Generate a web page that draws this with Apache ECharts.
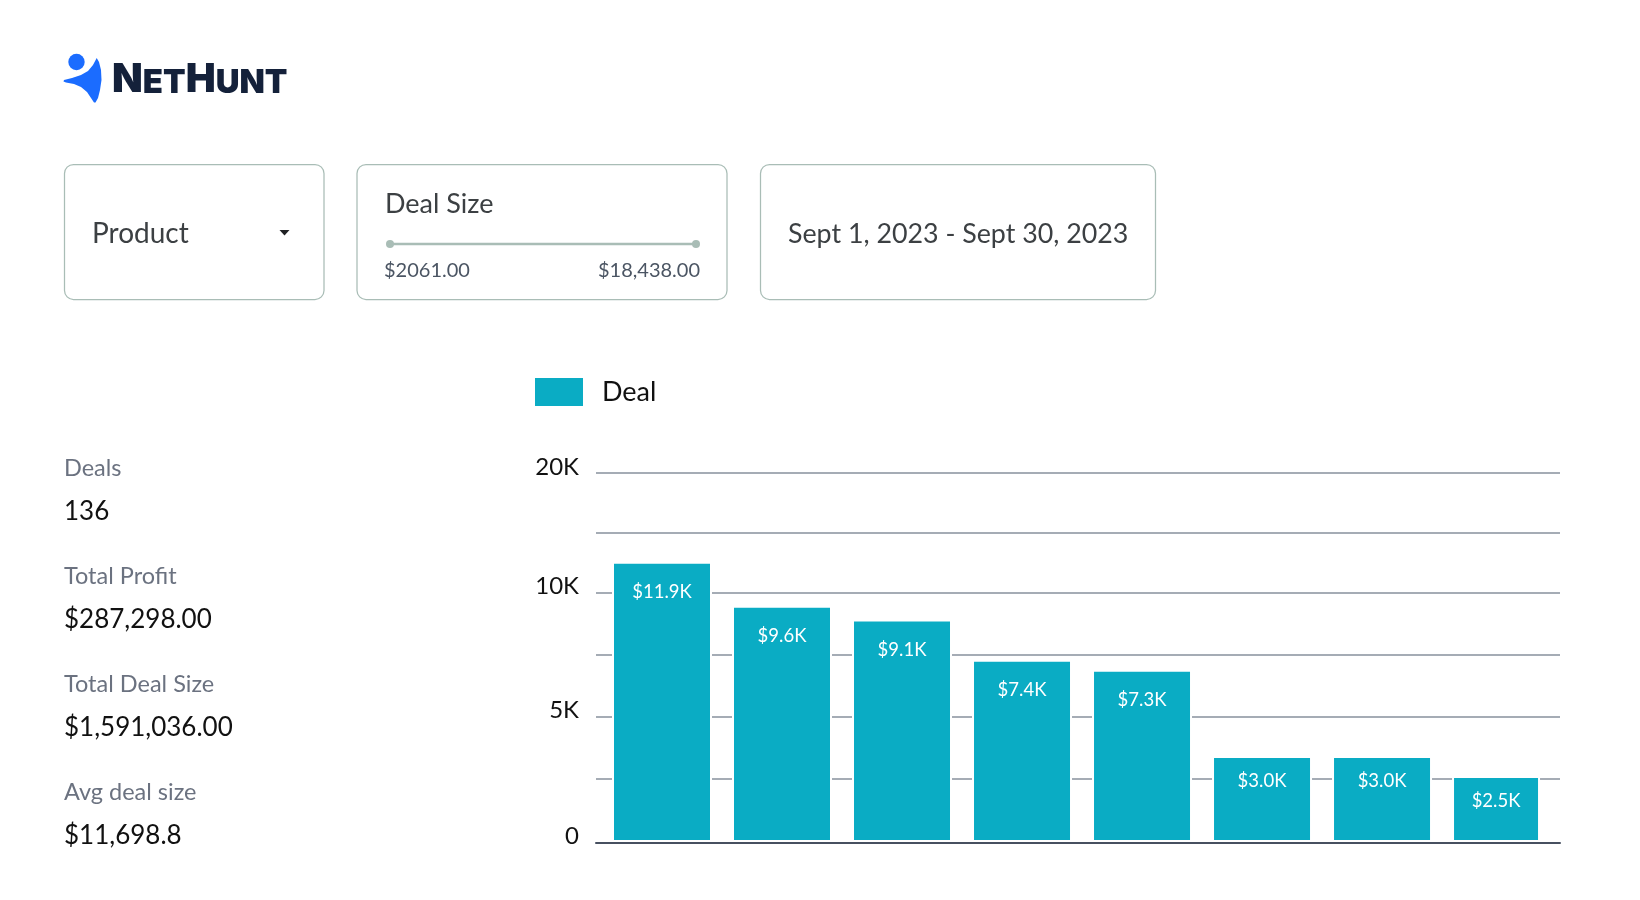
<!DOCTYPE html>
<html>
<head>
<meta charset="utf-8">
<style>html,body{margin:0;padding:0;background:#fff}#c{width:1640px;height:900px}</style>
<script src="https://cdn.jsdelivr.net/npm/echarts@6/dist/echarts.min.js"></script>
</head>
<body>
<div id="c"></div>
<script>
const categories = ['Deal 1','Deal 2','Deal 3','Deal 4','Deal 5','Deal 6','Deal 7','Deal 8'];
const dealValues = [11240, 9480, 8920, 7310, 6910, 3450, 3450, 2650];
const dealLabels = ['$11.9K','$9.6K','$9.1K','$7.4K','$7.3K','$3.0K','$3.0K','$2.5K'];
const gridTickValues = [0, 2530, 5030, 7510, 10000, 12400, 14800];
const axisLabelValues = [0, 5030, 10000, 14800];
const axisLabelTexts = ['0', '5K', '10K', '20K'];
const statNames = ['Deals','Total Profit','Total Deal Size','Avg deal size'];
const statValues = ['136','$287,298.00','$1,591,036.00','$11,698.8'];
const sliderMin = '$2061.00';
const sliderMax = '$18,438.00';
const dateRange = 'Sept 1, 2023 - Sept 30, 2023';

const FONT = 'Lato, "Noto Sans", sans-serif';
const LOGO_FONT = 'Inter, "Noto Sans", sans-serif';
const TEAL = '#0aacc4';
const EDGE = '#a9bdb6';

function txt(x, y, text, size, fill, extra) {
  return {type:'text', x, y, silent:true, style:Object.assign({text, fontSize:size, fontFamily:FONT, fill, verticalAlign:'middle', align:'left'}, extra||{})};
}
function card(x, y, w, h) {
  return {type:'rect', silent:true, shape:{x, y, width:w, height:h, r:9}, style:{fill:'#fff', stroke:EDGE, lineWidth:1.25}};
}
const graphics = [
  {type:'circle', silent:true, shape:{cx:76.5, cy:62, r:8.2}, style:{fill:'#1b6cff'}},
  {type:'polygon', silent:true, shape:{points:[[96.7,58],[93,65],[88,71],[81,75],[72,78],[64,80],[63.5,81.5],[66,82.5],[74,84],[81,87],[87,92],[91,98],[94,102.5],[95.5,102.5],[98,98],[100,90],[101.5,80],[101,70],[99,62]]}, style:{fill:'#1b6cff'}},
  txt(112, 80, '', 10, '#14213a', {
    text:'{a|N}{b|ET}{a|H}{b|UNT}', rich:{
      a:{fontSize:40, fontWeight:900, fontFamily:LOGO_FONT, fill:'#14213a', verticalAlign:'bottom', lineHeight:40},
      b:{fontSize:33, fontWeight:900, fontFamily:LOGO_FONT, fill:'#14213a', verticalAlign:'bottom', lineHeight:40}}}),
  card(64.5, 164.5, 259.5, 135),
  card(357, 164.5, 370, 135),
  card(760.5, 164.5, 395, 135),
  txt(92, 234, 'Product', 28, '#3c4043'),
  {type:'polygon', silent:true, shape:{points:[[279.5,230],[289.5,230],[284.5,235.5]]}, style:{fill:'#202124'}},
  txt(385, 204, 'Deal Size', 27, '#3c4043'),
  {type:'line', silent:true, shape:{x1:390, y1:244, x2:696, y2:244}, style:{stroke:EDGE, lineWidth:2.5}},
  {type:'circle', silent:true, shape:{cx:390, cy:244, r:4}, style:{fill:EDGE}},
  {type:'circle', silent:true, shape:{cx:696, cy:244, r:4}, style:{fill:EDGE}},
  txt(384, 271, sliderMin, 20, '#4b5563'),
  txt(700, 271, sliderMax, 20, '#4b5563', {align:'right'}),
  txt(788, 234, dateRange, 26.8, '#3c4043')
];
statNames.forEach((name, i) => {
  graphics.push(txt(64, 468 + i * 108, name, 23.5, '#6b7280'));
  graphics.push(txt(64, 512 + i * 108, statValues[i], 26, '#111111'));
});

const barLabel = {show:true, position:'insideTop', color:'#ffffff', fontSize:18.5, fontFamily:FONT,
                  formatter:p => dealLabels[p.data.value[0]]};
function barItems(values, first) {
  return values.map((v, i) => ({value:[first + i, v], label:{distance: v < 4000 ? 16 : 21}}));
}
const barShared = {
  type:'bar', name:'Deal', barWidth:100,
  itemStyle:{color:TEAL, borderColor:'#ffffff', borderWidth:2},
  label:barLabel
};
const xBase = {type:'value', show:false, splitLine:{show:false}};

const chart = echarts.init(document.getElementById('c'), null, {renderer:'canvas', width:1640, height:900});
chart.setOption({
  animation:false,
  backgroundColor:'#ffffff',
  graphic:graphics,
  legend:{
    data:['Deal'], left:530, top:373, itemWidth:48, itemHeight:28, itemGap:0,
    icon:'rect', itemStyle:{borderWidth:0, color:TEAL},
    textStyle:{fontSize:27, fontFamily:FONT, color:'#111111', padding:[4,0,0,14]}
  },
  grid:{left:596, right:80, top:473, height:369, containLabel:false},
  xAxis:[
    Object.assign({}, xBase, {show:true, min:-0.55, max:7.483, z:3, offset:1, axisLabel:{show:false}, axisTick:{show:false},
      axisLine:{show:true, onZero:false, lineStyle:{color:'#475060', width:2}}}),
    Object.assign({}, xBase, {min:-0.5, max:7.533})
  ],
  yAxis:{
    type:'value', min:0, max:14800,
    axisLine:{show:false},
    axisTick:{show:false, customValues:gridTickValues},
    splitLine:{show:true, showMinLine:false, lineStyle:{color:'#a5acb5', width:2}},
    axisLabel:{
      customValues:axisLabelValues, margin:17, fontSize:24, fontFamily:FONT, color:'#111111',
      verticalAlign:'bottom', lineHeight:12,
      formatter:v => axisLabelTexts[axisLabelValues.indexOf(v)]
    }
  },
  series:[
    Object.assign({}, barShared, {xAxisIndex:0, data:barItems(dealValues.slice(0,7), 0)}),
    Object.assign({}, barShared, {xAxisIndex:1, barWidth:88, data:barItems(dealValues.slice(7), 7)})
  ]
});
</script>
</body>
</html>
